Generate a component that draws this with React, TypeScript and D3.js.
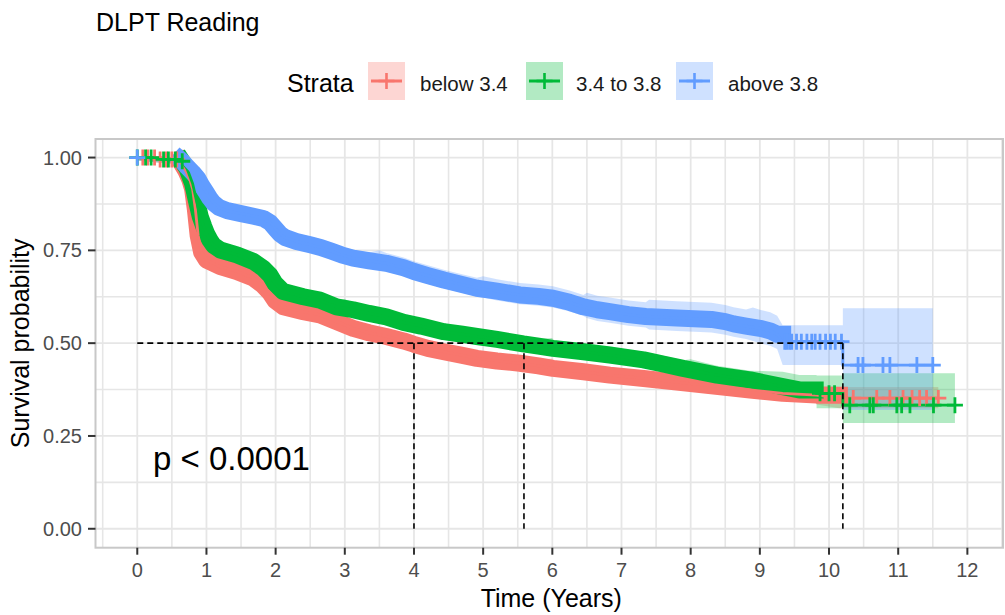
import React from "react";
import * as d3 from "d3";

const W = 1005;
const H = 615;
const FONT = "'Liberation Sans', Arial, Helvetica, sans-serif";

// ---------------- data ----------------
const strataLabels = ["below 3.4", "3.4 to 3.8", "above 3.8"];
const strataColors = ["#F8766D", "#00BA38", "#619CFF"];

const xTicks = [0, 1, 2, 3, 4, 5, 6, 7, 8, 9, 10, 11, 12];
const yTicks = [0, 0.25, 0.5, 0.75, 1];
const yTickLabels = ["0.00", "0.25", "0.50", "0.75", "1.00"];

// below 3.4
const belowTime = [0, 0.3, 0.62, 0.7, 0.76, 0.8, 0.84, 0.88, 0.93, 1.0, 1.2, 1.44, 1.68, 1.82, 1.92, 1.99, 2.11, 2.4, 2.64, 2.88, 3.12, 3.35, 3.6, 3.85, 4.0, 4.2, 4.43, 4.7, 4.91, 5.2, 5.53, 5.8, 6.01, 6.45, 6.83, 7.32, 7.8, 8.2, 8.5, 8.86, 9.33, 9.82, 10.15, 11.58];
const belowSurv = [1.0, 0.995, 0.99, 0.965, 0.94, 0.915, 0.86, 0.79, 0.745, 0.724, 0.706, 0.693, 0.675, 0.655, 0.635, 0.615, 0.598, 0.585, 0.576, 0.558, 0.54, 0.528, 0.518, 0.506, 0.497, 0.486, 0.477, 0.467, 0.459, 0.452, 0.446, 0.439, 0.432, 0.423, 0.414, 0.405, 0.395, 0.387, 0.381, 0.374, 0.365, 0.36, 0.352, 0.352];
// confidence band half-widths (above / below the curve), stepwise in time
const belowCiTime = [0, 0.7, 1.0, 3.0, 6.0, 9.0, 9.8, 10.15];
const belowCiUp = [0.005, 0.012, 0.014, 0.018, 0.02, 0.02, 0.025, 0.03];
const belowCiDown = [0.008, 0.015, 0.014, 0.018, 0.02, 0.02, 0.025, 0.027];
const belowCensor = [0.08, 0.15, 0.25, 0.33, 0.42, 0.5, 0.57, 10.35, 10.69, 10.88, 11.07, 11.2, 11.31, 11.41, 11.58];

// 3.4 to 3.8
const midTime = [0, 0.3, 0.65, 0.72, 0.8, 0.86, 0.91, 0.96, 1.0, 1.05, 1.1, 1.2, 1.44, 1.68, 1.82, 1.92, 1.99, 2.11, 2.4, 2.64, 2.88, 3.12, 3.35, 3.6, 3.85, 4.1, 4.43, 4.7, 4.91, 5.2, 5.58, 5.8, 6.01, 6.45, 6.83, 7.32, 7.6, 7.89, 8.38, 8.86, 9.33, 9.57, 9.82, 10.2, 11.82];
const midSurv = [1.0, 0.995, 0.99, 0.97, 0.93, 0.88, 0.841, 0.815, 0.796, 0.778, 0.764, 0.751, 0.738, 0.72, 0.702, 0.683, 0.661, 0.639, 0.625, 0.616, 0.598, 0.59, 0.58, 0.571, 0.556, 0.546, 0.531, 0.524, 0.518, 0.51, 0.498, 0.492, 0.486, 0.477, 0.468, 0.455, 0.444, 0.432, 0.414, 0.401, 0.383, 0.374, 0.365, 0.333, 0.333];
const midCiTime = [0, 0.7, 1.0, 3.0, 6.0, 8.0, 9.33, 9.82, 10.2];
const midCiUp = [0.005, 0.012, 0.018, 0.02, 0.022, 0.025, 0.04, 0.048, 0.086];
const midCiDown = [0.008, 0.015, 0.018, 0.02, 0.02, 0.025, 0.032, 0.04, 0.048];
const midCensor = [0.0, 0.12, 0.2, 0.38, 0.45, 0.55, 0.65, 9.87, 10.0, 10.08, 10.3, 10.59, 10.64, 10.98, 11.05, 11.17, 11.51, 11.82];

// above 3.8
const aboveTime = [0, 0.3, 0.65, 0.72, 0.8, 0.87, 0.93, 1.0, 1.05, 1.1, 1.18, 1.3, 1.5, 1.68, 1.82, 1.92, 1.99, 2.06, 2.13, 2.3, 2.5, 2.65, 2.8, 2.95, 3.12, 3.35, 3.6, 3.85, 4.0, 4.2, 4.43, 4.65, 4.91, 5.2, 5.53, 5.8, 6.01, 6.25, 6.45, 6.65, 6.83, 7.1, 7.35, 7.8, 8.3, 8.5, 8.62, 8.8, 9.0, 9.15, 9.25, 9.33, 10.2, 11.5];
const aboveSurv = [1.0, 0.995, 0.99, 0.975, 0.96, 0.945, 0.925, 0.905, 0.89, 0.878, 0.866, 0.857, 0.849, 0.842, 0.836, 0.825, 0.81, 0.795, 0.785, 0.774, 0.765, 0.758, 0.748, 0.738, 0.729, 0.722, 0.715, 0.703, 0.693, 0.682, 0.67, 0.66, 0.648, 0.64, 0.63, 0.626, 0.621, 0.61, 0.598, 0.59, 0.585, 0.577, 0.572, 0.568, 0.564, 0.558, 0.552, 0.546, 0.54, 0.533, 0.524, 0.504, 0.441, 0.441];
const aboveCiTime = [0, 0.7, 1.0, 2.0, 3.5, 5.0, 6.5, 7.4, 8.9, 9.33, 10.2];
const aboveCiUp = [0.005, 0.015, 0.02, 0.022, 0.028, 0.032, 0.038, 0.045, 0.05, 0.044, 0.153];
const aboveCiDown = [0.008, 0.015, 0.02, 0.02, 0.022, 0.025, 0.03, 0.035, 0.04, 0.063, 0.121];
const aboveCensor = [0.0, 9.36, 9.39, 9.43, 9.46, 9.53, 9.6, 9.68, 9.75, 9.8, 9.87, 9.95, 10.02, 10.09, 10.18, 10.42, 10.49, 10.78, 10.88, 11.27, 11.5];

// range of time where censor marks are so dense they merge into a solid band
const denseStart = [0.62, 0.65, 0.62];
const denseEnd = [10.15, 9.8, 9.33];

const medianTimes = [4.0, 5.59, 10.2];
const pValueText = "p < 0.0001";

const series = [
  { time: belowTime, surv: belowSurv, ciTime: belowCiTime, up: belowCiUp, down: belowCiDown, censor: belowCensor },
  { time: midTime, surv: midSurv, ciTime: midCiTime, up: midCiUp, down: midCiDown, censor: midCensor },
  { time: aboveTime, surv: aboveSurv, ciTime: aboveCiTime, up: aboveCiUp, down: aboveCiDown, censor: aboveCensor },
];

// ---------------- layout ----------------
const panel = { left: 95.5, right: 1003, top: 139, bottom: 547.7 };
const x = d3.scaleLinear().domain([-0.604, 12.515]).range([panel.left, panel.right]);
const y = d3.scaleLinear().domain([-0.051, 1.05]).range([panel.bottom, panel.top]);

function valueAt(times: number[], vals: number[], t: number) {
  const i = d3.bisectRight(times, t) - 1;
  return vals[Math.max(0, i)];
}

// Points of the curve between t0 and t1. Inside the dense stretch (t <= smoothUntil)
// the read-off knots are joined directly (the merged censor band looks continuous);
// after it the curve is drawn as a true step function.
function curvePoints(
  times: number[],
  f: (t: number) => number,
  t0: number,
  t1: number,
  smoothUntil: number
): [number, number][] {
  const pts: [number, number][] = [[t0, f(t0)]];
  let prev = f(t0);
  times.forEach((t) => {
    if (t > t0 && t < t1) {
      if (t > smoothUntil) pts.push([t, prev]);
      const v = f(t);
      pts.push([t, v]);
      prev = v;
    }
  });
  pts.push([t1, prev]);
  return pts;
}

const line = d3
  .line<[number, number]>()
  .x((d) => x(d[0]))
  .y((d) => y(d[1]));

function plusPath(cx: number, cy: number, r: number) {
  return `M${cx - r},${cy}H${cx + r}M${cx},${cy - r}V${cy + r}`;
}

function ribbonPath(s: (typeof series)[number], smoothUntil: number) {
  const ts = Array.from(new Set([...s.time, ...s.ciTime])).sort((a, b) => a - b);
  const tEnd = s.time[s.time.length - 1];
  const hi = (t: number) => Math.min(1, valueAt(s.time, s.surv, t) + valueAt(s.ciTime, s.up, t));
  const lo = (t: number) => valueAt(s.time, s.surv, t) - valueAt(s.ciTime, s.down, t);
  const hiPts = curvePoints(ts, hi, 0, tEnd, smoothUntil);
  const loPts = curvePoints(ts, lo, 0, tEnd, smoothUntil);
  const area = d3
    .area<number>()
    .x((j) => x(hiPts[j][0]))
    .y0((j) => y(loPts[j][1]))
    .y1((j) => y(hiPts[j][1]));
  return area(d3.range(hiPts.length)) || "";
}

export default function App() {
  const xMinor = d3.range(-0.5, 12.6, 1);
  const yMinor = [0.125, 0.375, 0.625, 0.875];
  const gridColor = "#E6E6E6";

  const legendKeyX = [368, 526, 676];
  const legendLabelX = [420, 576, 728];

  return (
    <svg width={W} height={H} style={{ position: "absolute", left: 0, top: 0, background: "#fff" }} fontFamily={FONT}>
      <rect x={0} y={0} width={W} height={H} fill="#fff" />
      {/* title */}
      <text x={96} y={31} fontSize={25} fill="#000">DLPT Reading</text>

      {/* legend */}
      <text x={287} y={92} fontSize={25} fill="#000">Strata</text>
      {strataLabels.map((lab, i) => {
        const kx = legendKeyX[i];
        const ky = 62;
        const cy = ky + 19;
        return (
          <g key={lab}>
            <rect x={kx} y={ky} width={37} height={38} fill={strataColors[i]} fillOpacity={0.3} />
            <line x1={kx + 3} x2={kx + 34} y1={cy} y2={cy} stroke={strataColors[i]} strokeWidth={3} />
            <path d={plusPath(kx + 18.5, cy, 8)} stroke={strataColors[i]} strokeWidth={2.6} />
            <text x={legendLabelX[i]} y={91} fontSize={20.5} fill="#1a1a1a">{lab}</text>
          </g>
        );
      })}

      {/* grid */}
      <g>
        {xMinor.map((t) => (
          <line key={"xm" + t} x1={x(t)} x2={x(t)} y1={panel.top} y2={panel.bottom} stroke={gridColor} strokeWidth={1.6} />
        ))}
        {yMinor.map((v) => (
          <line key={"ym" + v} x1={panel.left} x2={panel.right} y1={y(v)} y2={y(v)} stroke={gridColor} strokeWidth={1.6} />
        ))}
        {xTicks.map((t) => (
          <line key={"xg" + t} x1={x(t)} x2={x(t)} y1={panel.top} y2={panel.bottom} stroke={gridColor} strokeWidth={1.8} />
        ))}
        {yTicks.map((v) => (
          <line key={"yg" + v} x1={panel.left} x2={panel.right} y1={y(v)} y2={y(v)} stroke={gridColor} strokeWidth={1.8} />
        ))}
      </g>

      {/* confidence ribbons */}
      {series.map((s, i) => (
        <path key={"ci" + i} d={ribbonPath(s, denseEnd[i])} fill={strataColors[i]} fillOpacity={0.3} stroke="none" />
      ))}

      {/* dense censor bands */}
      {series.map((s, i) => (
        <path
          key={"band" + i}
          d={line(curvePoints(s.time, (t) => valueAt(s.time, s.surv, t), denseStart[i], denseEnd[i], denseEnd[i])) || ""}
          fill="none"
          stroke={strataColors[i]}
          strokeWidth={17}
          strokeLinecap="square"
          strokeLinejoin="round"
        />
      ))}

      {/* survival lines */}
      {series.map((s, i) => (
        <path
          key={"line" + i}
          d={line(curvePoints(s.time, (t) => valueAt(s.time, s.surv, t), 0, s.time[s.time.length - 1], denseEnd[i])) || ""}
          fill="none"
          stroke={strataColors[i]}
          strokeWidth={2.8}
        />
      ))}

      {/* individual censor marks */}
      {series.map((s, i) => (
        <g key={"cens" + i}>
          {s.censor.map((t, j) => (
            <path key={j} d={plusPath(x(t), y(valueAt(s.time, s.surv, t)), 8)} stroke={strataColors[i]} strokeWidth={2.8} />
          ))}
        </g>
      ))}

      {/* median lines */}
      <g stroke="#000" strokeWidth={1.6} strokeDasharray="6,4" fill="none">
        <line x1={x(0)} x2={x(d3.max(medianTimes) as number)} y1={y(0.5)} y2={y(0.5)} />
        {medianTimes.map((t) => (
          <line key={"med" + t} x1={x(t)} x2={x(t)} y1={y(0.5)} y2={y(0)} />
        ))}
      </g>

      {/* p-value */}
      <text x={153} y={470} fontSize={33} fill="#000">{pValueText}</text>

      {/* panel border */}
      <rect x={panel.left} y={panel.top} width={panel.right - panel.left} height={panel.bottom - panel.top} fill="none" stroke="#C8C8C8" strokeWidth={2} />

      {/* y axis */}
      {yTicks.map((v, i) => (
        <g key={"yt" + v}>
          <line x1={panel.left - 7.5} x2={panel.left} y1={y(v)} y2={y(v)} stroke="#333" strokeWidth={2} />
          <text x={82} y={y(v)} dy="0.35em" textAnchor="end" fontSize={20} fill="#4D4D4D">{yTickLabels[i]}</text>
        </g>
      ))}
      {/* x axis */}
      {xTicks.map((t) => (
        <g key={"xt" + t}>
          <line x1={x(t)} x2={x(t)} y1={panel.bottom} y2={panel.bottom + 7} stroke="#333" strokeWidth={2} />
          <text x={x(t)} y={577} textAnchor="middle" fontSize={20} fill="#4D4D4D">{t}</text>
        </g>
      ))}

      {/* axis titles */}
      <text x={(panel.left + panel.right) / 2 + 2} y={607} textAnchor="middle" fontSize={25} fill="#000">Time (Years)</text>
      <text transform={`translate(29, ${(panel.top + panel.bottom) / 2}) rotate(-90)`} textAnchor="middle" fontSize={25} fill="#000">Survival probability</text>
    </svg>
  );
}
